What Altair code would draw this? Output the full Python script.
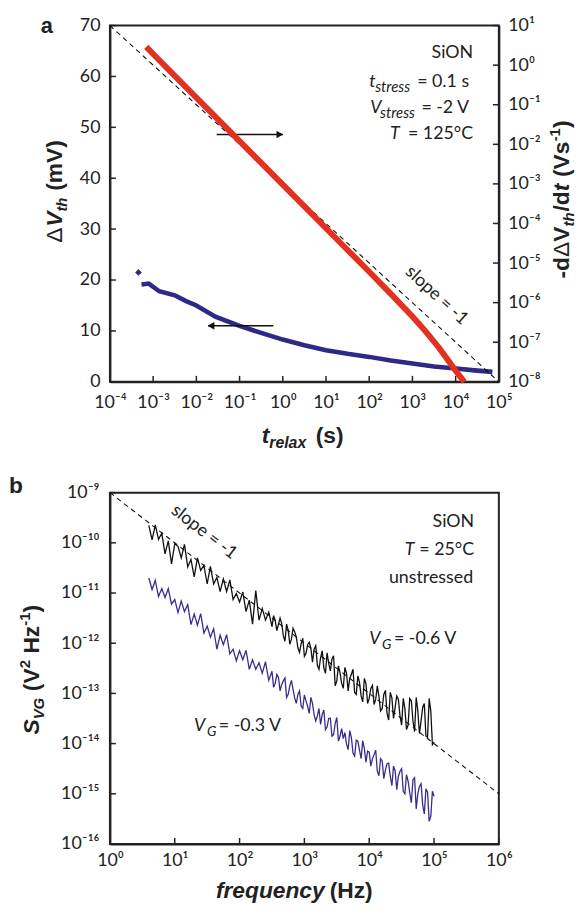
import altair as alt
import pandas as pd

# ---------------- panel a data ----------------
RED_LOG_T = [-3.16, -3.0, -2.5, -2.0, -1.5, -1.0, -0.5, 0.0, 0.5, 1.0, 1.5, 2.0, 2.5, 3.0, 3.3, 3.6, 3.8, 4.0, 4.2]
RED_LOG_RATE = [0.46, 0.28, -0.27, -0.82, -1.37, -1.92, -2.47, -3.02, -3.57, -4.12, -4.67, -5.22, -5.78, -6.35, -6.72, -7.12, -7.42, -7.72, -8.0]

BLUE_LOG_T = [-3.27, -3.1, -2.86, -2.5, -2.25, -2.0, -1.56, -1.0, -0.5, 0.0, 0.5, 1.0, 1.5, 2.0, 2.5, 3.0, 3.5, 4.0, 4.5, 4.85]
BLUE_DVTH = [19.1, 19.3, 17.8, 17.0, 15.9, 15.0, 12.8, 11.0, 9.6, 8.3, 7.2, 6.2, 5.5, 4.9, 4.2, 3.6, 3.0, 2.6, 2.2, 1.95]
BLUE_FIRST_LOG_T = [-3.34]
BLUE_FIRST_DVTH = [21.5]

ARROW_FROM_LOG_T = [-1.53, -0.22]
ARROW_TO_LOG_T = [0.0, -1.73]
ARROW_DVTH = [48.6, 11.0]

SLOPE_A_LOG_T = [-4, 5]
SLOPE_A_LOG_RATE = [1, -8]

XA_TICKS = [1e-4, 1e-3, 1e-2, 1e-1, 1e0, 1e1, 1e2, 1e3, 1e4, 1e5]
YA_LEFT_TICKS = [0, 10, 20, 30, 40, 50, 60, 70]
YA_RIGHT_TICKS = [1e-8, 1e-7, 1e-6, 1e-5, 1e-4, 1e-3, 1e-2, 1e-1, 1e0, 1e1]

# ---------------- panel b data ----------------
LOG_F = [0.60, 0.65, 0.70, 0.75, 0.80, 0.85, 0.90, 0.95, 1.00, 1.05,
         1.10, 1.15, 1.20, 1.25, 1.30, 1.35, 1.40, 1.45, 1.50, 1.55,
         1.60, 1.65, 1.70, 1.75, 1.80, 1.85, 1.90, 1.95, 2.00, 2.05,
         2.10, 2.15, 2.20, 2.25, 2.30, 2.35, 2.40, 2.45,
         2.500, 2.525, 2.550, 2.575, 2.600, 2.625, 2.650, 2.675, 2.700, 2.725,
         2.750, 2.775, 2.800, 2.825, 2.850, 2.875, 2.900, 2.925, 2.950, 2.975,
         3.000, 3.025, 3.050, 3.075, 3.100, 3.125, 3.150, 3.175, 3.200, 3.225,
         3.250, 3.275, 3.300, 3.325, 3.350, 3.375, 3.400, 3.425, 3.450, 3.475,
         3.500, 3.525, 3.550, 3.575, 3.600, 3.625, 3.650, 3.675, 3.700, 3.725,
         3.750, 3.775, 3.800, 3.825, 3.850, 3.875, 3.900, 3.925, 3.950, 3.975,
         4.000, 4.025, 4.050, 4.075, 4.100, 4.125, 4.150, 4.175, 4.200, 4.225,
         4.250, 4.275, 4.300, 4.325, 4.350, 4.375, 4.400, 4.425, 4.450, 4.475,
         4.500, 4.525, 4.550, 4.575, 4.600, 4.625, 4.650, 4.675, 4.700, 4.725,
         4.750, 4.775, 4.800, 4.825, 4.850, 4.875, 4.900, 4.925, 4.950, 4.975,
         5.000]
BLACK_LOG_S = [-9.65, -9.94, -9.64, -9.93, -9.81, -10.22, -9.96, -10.42, -10.02, -10.07,
               -10.30, -10.03, -10.48, -10.33, -10.68, -10.30, -10.55, -10.45, -10.82, -10.47,
               -10.82, -10.69, -10.97, -10.72, -10.97, -10.74, -11.13, -11.01, -11.18, -10.98,
               -11.37, -11.14, -11.62, -10.95, -11.54, -11.31, -11.54, -11.38,
               -11.67, -11.45, -11.55, -11.75, -11.62, -11.50, -11.61, -11.85, -11.96, -11.62,
               -11.74, -12.02, -11.92, -11.70, -11.77, -11.88, -12.09, -12.18, -12.01, -11.90,
               -12.26, -12.20, -12.03, -11.98, -12.10, -12.38, -12.12, -12.05, -12.44, -12.52,
               -12.29, -12.15, -12.49, -12.60, -12.19, -12.40, -12.55, -12.32, -12.25, -12.85,
               -12.75, -12.45, -12.59, -12.80, -12.90, -12.48, -12.60, -12.95, -12.70, -12.62,
               -12.52, -12.98, -13.02, -12.65, -12.78, -13.05, -13.17, -12.70, -12.81, -13.20,
               -13.10, -12.90, -12.84, -13.22, -13.12, -12.85, -13.06, -13.35, -13.30, -13.02,
               -12.94, -13.40, -13.53, -12.98, -13.09, -13.50, -13.28, -13.05, -13.12, -13.45,
               -13.63, -13.10, -13.30, -13.72, -13.63, -13.10, -13.15, -13.55, -13.76, -13.08,
               -13.35, -13.80, -13.55, -13.28, -13.20, -13.85, -13.87, -13.10, -13.35, -14.02,
               -13.97]
BLUE_LOG_S = [-10.70, -10.93, -10.75, -11.07, -10.91, -11.09, -10.91, -11.22, -11.13, -11.39,
              -11.16, -11.37, -11.23, -11.63, -11.42, -11.64, -11.41, -11.80, -11.66, -11.88,
              -11.71, -12.12, -11.84, -12.03, -11.83, -12.21, -12.12, -12.35, -12.15, -12.33,
              -12.14, -12.52, -12.33, -12.52, -12.39, -12.60, -12.37, -12.74,
              -12.56, -12.88, -12.80, -12.62, -12.68, -12.95, -12.82, -12.75, -12.69, -13.08,
              -13.02, -12.85, -12.74, -12.92, -13.09, -13.20, -13.02, -12.95, -13.25, -13.30,
              -13.03, -13.15, -13.26, -13.40, -13.08, -13.20, -13.43, -13.55, -13.45, -13.30,
              -13.62, -13.42, -13.33, -13.72, -13.67, -13.50, -13.49, -13.85, -13.82, -13.60,
              -13.48, -13.95, -13.85, -13.70, -13.90, -13.78, -14.01, -14.12, -13.74, -13.88,
              -14.19, -14.25, -13.93, -13.95, -14.13, -14.30, -13.94, -14.10, -14.37, -14.15,
              -14.17, -14.45, -14.30, -14.22, -14.13, -14.55, -14.64, -14.30, -14.34, -14.70,
              -14.53, -14.40, -14.39, -14.65, -14.84, -14.45, -14.54, -14.92, -14.65, -14.55,
              -14.50, -14.95, -15.00, -14.62, -14.75, -14.98, -15.18, -14.72, -14.68, -15.30,
              -15.00, -14.85, -14.80, -15.22, -15.40, -14.90, -14.97, -15.55, -15.45, -14.95,
              -15.05]
SLOPE_B_LOG_F = [0, 6]
SLOPE_B_LOG_S = [-9, -15]

XB_TICKS = [1e0, 1e1, 1e2, 1e3, 1e4, 1e5, 1e6]
YB_TICKS = [1e-16, 1e-15, 1e-14, 1e-13, 1e-12, 1e-11, 1e-10, 1e-9]

# ---------------- styling ----------------
W, HA, HB = 393, 360, 355
RED = "#e3301f"
BLUE_A = "#2e2886"
BLUE_B = "#3a2c8e"
BLACK = "#111111"
INK = "#222222"
TITLE_FONT = "Liberation Sans"
LABEL_FONT = "Lato"
TICK_LEN = 6

SUP = {"-": "\u207b", "0": "\u2070", "1": "\u00b9", "2": "\u00b2", "3": "\u00b3", "4": "\u2074",
       "5": "\u2075", "6": "\u2076", "7": "\u2077", "8": "\u2078", "9": "\u2079"}


def sup_expr():
    e = "toString(round(log(datum.value) / LN10))"
    for k, v in SUP.items():
        e = f"replace({e}, regexp('{k}', 'g'), '{v}')"
    return "'10' + " + e


SUP_EXPR = sup_expr()
COMMON_AXIS = dict(title=None, ticks=False, grid=False, labelFlush=False, labelOverlap=False, labelBound=False)

ONE = pd.DataFrame({"k": [0]})


def txt(s, x, y, size=18, font=LABEL_FONT, style="normal", weight="normal", align="left",
        baseline="alphabetic", angle=0, dx=0, dy=0, color=INK):
    return alt.Chart(ONE).mark_text(
        text=s, font=font, fontSize=size, fontStyle=style, fontWeight=weight, align=align,
        baseline=baseline, angle=angle, dx=dx, dy=dy, color=color
    ).encode(x=alt.value(x), y=alt.value(y))


def title_piece(s, x, y, size=23, style="normal", weight="bold", align="left", angle=270, dx=0, dy=0):
    return txt(s, x, y, size=size, font=TITLE_FONT, style=style, weight=weight, align=align,
               angle=angle, dx=dx, dy=dy)


# ---------------- panel a ----------------
X_A = alt.X("t:Q", scale=alt.Scale(type="log", domain=[1e-4, 1e5], nice=False),
            axis=alt.Axis(values=XA_TICKS, labelExpr=SUP_EXPR, labelPadding=12, **COMMON_AXIS))
Y_L = alt.Y("v:Q", scale=alt.Scale(domain=[0, 70], nice=False),
            axis=alt.Axis(orient="left", values=YA_LEFT_TICKS, labelPadding=10, **COMMON_AXIS))
Y_R = alt.Y("r:Q", scale=alt.Scale(type="log", domain=[1e-8, 1e1], nice=False),
            axis=alt.Axis(orient="right", values=YA_RIGHT_TICKS, labelExpr=SUP_EXPR, labelPadding=9, **COMMON_AXIS))

blue_a_df = pd.DataFrame({"t": [10 ** v for v in BLUE_LOG_T], "v": BLUE_DVTH})
blue_first_df = pd.DataFrame({"t": [10 ** v for v in BLUE_FIRST_LOG_T], "v": BLUE_FIRST_DVTH})
shaft_df = pd.DataFrame({"t": [10 ** v for v in ARROW_FROM_LOG_T], "t2": [10 ** v for v in ARROW_TO_LOG_T], "v": ARROW_DVTH})
head_r_df = pd.DataFrame({"t": [10 ** ARROW_TO_LOG_T[0]], "v": [ARROW_DVTH[0]]})
head_l_df = pd.DataFrame({"t": [10 ** ARROW_TO_LOG_T[1]], "v": [ARROW_DVTH[1]]})
red_df = pd.DataFrame({"t": [10 ** v for v in RED_LOG_T], "r": [10 ** v for v in RED_LOG_RATE]})
slope_a_df = pd.DataFrame({"t": [10 ** v for v in SLOPE_A_LOG_T], "r": [10 ** v for v in SLOPE_A_LOG_RATE]})

blue_line = alt.Chart(blue_a_df).mark_line(color=BLUE_A, strokeWidth=4.6).encode(x=X_A, y=Y_L)
blue_pt = alt.Chart(blue_first_df).mark_point(shape="diamond", filled=True, size=45, color=BLUE_A, opacity=1).encode(x=X_A, y=Y_L)
shafts = alt.Chart(shaft_df).mark_rule(color=BLACK, strokeWidth=1.6).encode(x=X_A, x2="t2:Q", y=Y_L)
head_r = alt.Chart(head_r_df).mark_point(shape="triangle-right", filled=True, size=60, color=BLACK, opacity=1, xOffset=-3).encode(x=X_A, y=Y_L)
head_l = alt.Chart(head_l_df).mark_point(shape="triangle-left", filled=True, size=60, color=BLACK, opacity=1, xOffset=3).encode(x=X_A, y=Y_L)
xticks_a = alt.Chart(pd.DataFrame({"t": XA_TICKS})).mark_rule(color=INK, strokeWidth=1.5).encode(
    x=X_A, y=alt.value(HA), y2=alt.value(HA - TICK_LEN))
lticks_a = alt.Chart(pd.DataFrame({"v": YA_LEFT_TICKS})).mark_rule(color=INK, strokeWidth=1.5).encode(
    y=Y_L, x=alt.value(0), x2=alt.value(TICK_LEN))

red_line = alt.Chart(red_df).mark_line(color=RED, strokeWidth=6).encode(x=X_A, y=Y_R)
slope_a = alt.Chart(slope_a_df).mark_line(color=BLACK, strokeWidth=1.1, strokeDash=[5, 4]).encode(x=X_A, y=Y_R)
rticks_a = alt.Chart(pd.DataFrame({"r": YA_RIGHT_TICKS})).mark_rule(color=INK, strokeWidth=1.5).encode(
    y=Y_R, x=alt.value(W), x2=alt.value(W - TICK_LEN))

RX = W + 71
texts_a = [
    txt("a", -70, 8, size=22, font=TITLE_FONT, weight="bold"),
    txt("SiON", 367, 33, align="right"),
    txt("t", 262, 62, style="italic"),
    txt("stress", 268, 62, size=15, style="italic", dy=5),
    txt("= 0.1 s", 363, 62, align="right"),
    txt("V", 263, 88, style="italic"),
    txt("stress", 273, 88, size=15, style="italic", dy=5),
    txt("= -2 V", 363, 88, align="right"),
    txt("T", 283, 115, style="italic"),
    txt("= 125\u00b0C", 367, 115, align="right"),
    txt("slope = -1", 330, 273, align="center", baseline="middle", angle=42.5),
    # x title
    title_piece("t", 161, 422, style="italic", align="right", angle=0),
    title_piece("relax", 161, 422, size=16, style="italic", angle=0, dy=5),
    title_piece("(s)", 208, 422, angle=0),
    # left y title
    title_piece("V", -48, 188, style="italic", align="right"),
    title_piece("\u0394", -48, 188, weight="normal", align="right", dx=-16),
    title_piece("th", -48, 188, size=15, style="italic", dy=5),
    title_piece("(mV)", -48, 188, dx=21),
    # right y title
    title_piece("V", RX, 203, align="right"),
    title_piece("\u0394", RX, 203, weight="normal", align="right", dx=-15.5),
    title_piece("-d", RX, 203, align="right", dx=-31),
    title_piece("th", RX, 203, size=15, style="italic", dy=5),
    title_piece("/d", RX, 203, dx=15),
    title_piece("t", RX, 203, style="italic", dx=35.5),
    title_piece("(Vs", RX, 203, dx=50),
    title_piece("-1", RX, 203, size=15, dx=86, dy=-9),
    title_piece(")", RX, 203, dx=99.5),
]

left_group = alt.layer(blue_line, blue_pt, shafts, head_r, head_l, xticks_a, lticks_a)
right_group = alt.layer(slope_a, red_line, rticks_a, *texts_a)
panel_a = alt.layer(left_group, right_group).resolve_scale(y="independent").properties(width=W, height=HA)

# ---------------- panel b ----------------
X_B = alt.X("f:Q", scale=alt.Scale(type="log", domain=[1e0, 1e6], nice=False),
            axis=alt.Axis(values=XB_TICKS, labelExpr=SUP_EXPR, labelPadding=8, **COMMON_AXIS))
Y_B = alt.Y("s:Q", scale=alt.Scale(type="log", domain=[1e-16, 1e-9], nice=False),
            axis=alt.Axis(orient="left", values=YB_TICKS, labelExpr=SUP_EXPR, labelPadding=11, **COMMON_AXIS))

black_df = pd.DataFrame({"f": [10 ** v for v in LOG_F], "s": [10 ** v for v in BLACK_LOG_S]})
blue_b_df = pd.DataFrame({"f": [10 ** v for v in LOG_F], "s": [10 ** v for v in BLUE_LOG_S]})
slope_b_df = pd.DataFrame({"f": [10 ** v for v in SLOPE_B_LOG_F], "s": [10 ** v for v in SLOPE_B_LOG_S]})

slope_b = alt.Chart(slope_b_df).mark_line(color=BLACK, strokeWidth=1.1, strokeDash=[5, 4]).encode(x=X_B, y=Y_B)
blue_b = alt.Chart(blue_b_df).mark_line(color=BLUE_B, strokeWidth=1.3).encode(x=X_B, y=Y_B)
black_b = alt.Chart(black_df).mark_line(color=BLACK, strokeWidth=1.3).encode(x=X_B, y=Y_B)
xticks_b = alt.Chart(pd.DataFrame({"f": XB_TICKS})).mark_rule(color=INK, strokeWidth=1.5).encode(
    x=X_B, y=alt.value(HB), y2=alt.value(HB - TICK_LEN))
yticks_b = alt.Chart(pd.DataFrame({"s": YB_TICKS})).mark_rule(color=INK, strokeWidth=1.5).encode(
    y=Y_B, x=alt.value(0), x2=alt.value(TICK_LEN))

texts_b = [
    txt("b", -102, 0, size=23, font=TITLE_FONT, weight="bold"),
    txt("SiON", 368, 35, align="right"),
    txt("T", 298, 63, style="italic"),
    txt("= 25\u00b0C", 368, 63, align="right"),
    txt("unstressed", 367, 91, align="right"),
    txt("V", 262, 153, style="italic"),
    txt("G", 275, 153, size=14, style="italic", dy=5),
    txt("= -0.6 V", 287, 153),
    txt("V", 85, 241, style="italic"),
    txt("G", 98, 241, size=14, style="italic", dy=5),
    txt("= -0.3 V", 110, 241),
    txt("slope = -1", 95, 40, align="center", baseline="middle", angle=37.7),
    # x title
    title_piece("frequency", 217, 410, style="italic", align="right", angle=0),
    title_piece("(Hz)", 222, 410, angle=0),
    # y title
    title_piece("S", -72, 229, style="italic", align="right"),
    title_piece("VG", -72, 229, size=15, style="italic", dy=5),
    title_piece("(V", -72, 229, dx=28.4),
    title_piece("2", -72, 229, size=15, dx=51.5, dy=-9),
    title_piece("Hz", -72, 229, dx=66.4),
    title_piece("-1", -72, 229, size=15, dx=94.5, dy=-9),
    title_piece(")", -72, 229, dx=108),
]

panel_b = alt.layer(slope_b, blue_b, black_b, xticks_b, yticks_b, *texts_b).properties(width=W, height=HB)

chart = alt.vconcat(panel_a, panel_b, spacing=112, bounds="flush").properties(
    padding={"left": 0, "top": 2, "right": 2, "bottom": 2}
).configure_view(stroke=INK, strokeWidth=2).configure_axis(
    labelFont=LABEL_FONT, labelFontSize=18, labelColor=INK, domainColor=INK, domainWidth=2
)

chart.save("out.html", embed_options={"renderer": "svg", "actions": False})
